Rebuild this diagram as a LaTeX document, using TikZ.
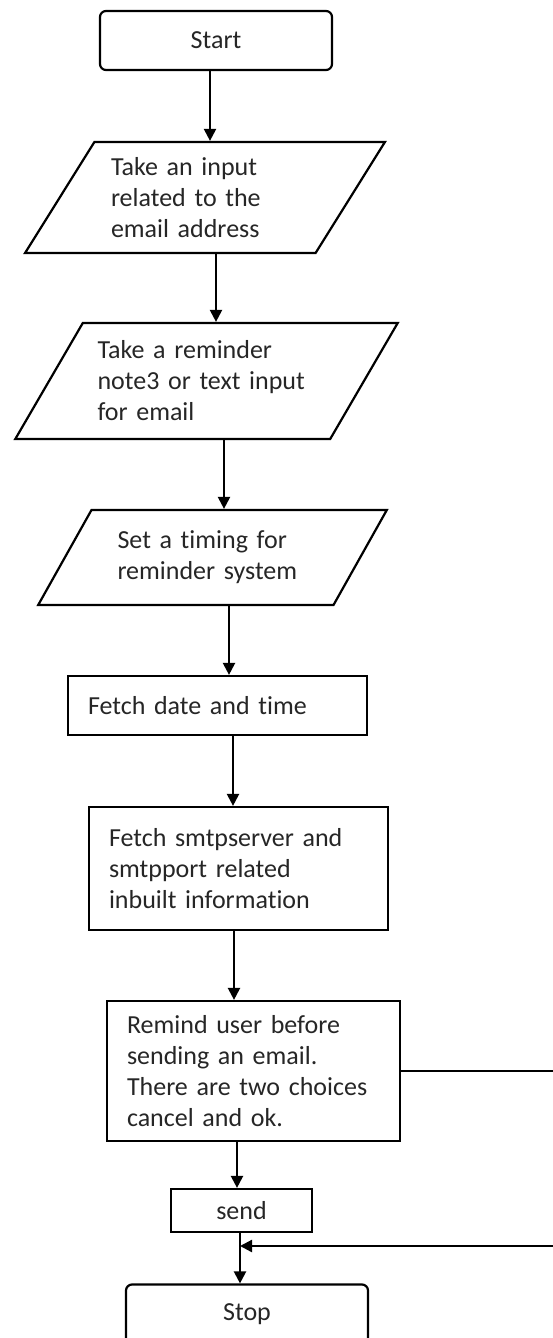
\documentclass[tikz,border=0pt]{standalone}
\usepackage{fontspec}
\setmainfont{Carlito}[Ligatures=NoCommon]
\usetikzlibrary{shapes.geometric,arrows.meta}

\begin{document}
\begin{tikzpicture}[x=0.5pt,y=-0.5pt,
	every node/.style={font=\fontsize{13pt}{15.5pt}\selectfont, text=black!85},
	terminal/.style={draw, line width=1.1pt, rounded corners=3pt},
	inputbox/.style={draw, line width=1.1pt, trapezium, trapezium left angle=56, trapezium right angle=124,
		trapezium stretches=true, align=left},
	procbox/.style={draw, line width=1.1pt, rectangle, align=left, inner xsep=10pt},
	arr/.style={line width=1.1pt, -{Triangle[width=6pt,length=6pt]}}]
			\useasboundingbox (0,0) rectangle (552,1338);
			% start and stop
			\node[terminal, minimum width=116pt, minimum height=29.5pt] (start) at (216,40.5) {Start};
			\node[terminal, minimum width=121pt, minimum height=29.5pt] (stop) at (247,1314) {Stop};
			% inputs
			\node[inputbox, minimum width=180pt, minimum height=55.5pt, text width=94pt] (in1) at (205,197.5)
				{Take an input\\related to the\\email address};
			\node[inputbox, minimum width=191.5pt, minimum height=58pt, text width=109pt] (in2) at (206.5,381)
				{Take a reminder\\note3 or text input\\for email};
			\node[inputbox, minimum width=174.5pt, minimum height=47.5pt, text width=95pt] (in3) at (212.5,557.5)
				{Set a timing for\\reminder system};
			% processing steps
			\node[procbox, minimum height=29.5pt, text width=129.5pt] (date) at (217.5,705.5)
				{Fetch date and time};
			\node[procbox, minimum height=61.5pt, text width=129.5pt] (smtp) at (238.5,868.5)
				{Fetch smtpserver and\\smtpport related\\inbuilt information};
			\node[procbox, minimum height=70pt, text width=126.5pt] (remind) at (253.5,1071)
				{Remind user before\\sending an email.\\There are two choices\\cancel and ok.};
			\node[draw, line width=1.1pt, minimum width=70.5pt, minimum height=21.5pt] (send) at (241.5,1210.5) {send};
			% main flow
			\foreach \a/\b/\x in {start/in1/210, in1/in2/216, in2/in3/224, in3/date/229,
				date/smtp/233, smtp/remind/234, remind/send/237, send/stop/240} {
				\draw[arr] (\a.south -| \x,0) -- (\b.north -| \x,0);
			}
			% cancel path back to stop
			\coordinate (fb) at (556,1246);
			\coordinate (join) at (240,1246);
			\draw[arr] (remind.east) -| (fb) -- (join);
\end{tikzpicture}
\end{document}
